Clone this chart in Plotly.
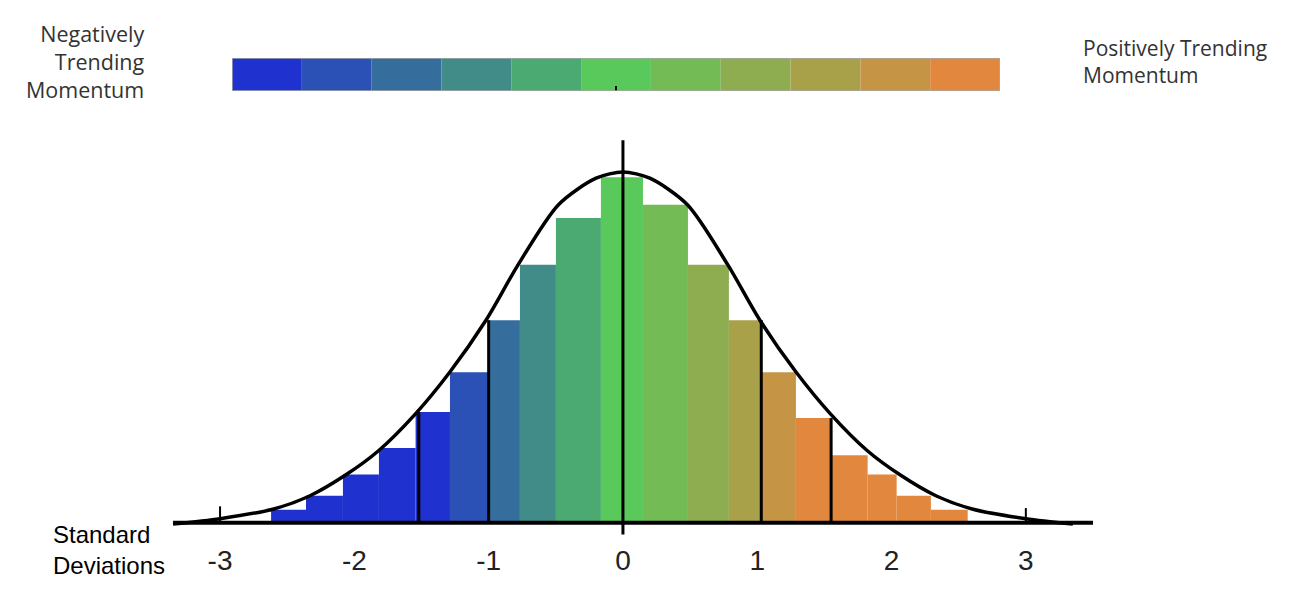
import plotly.graph_objects as go

# histogram bars (standard deviations)
bar_edges = [-2.62, -2.36, -2.085, -1.817, -1.544, -1.288, -1.005, -0.767, -0.499, -0.164,
             0.149, 0.484, 0.789, 1.035, 1.288, 1.554, 1.822, 2.038, 2.293, 2.567]
bar_heights = [0.016, 0.032, 0.056, 0.086, 0.127, 0.172, 0.231, 0.294, 0.347, 0.393,
               0.362, 0.294, 0.231, 0.172, 0.120, 0.078, 0.056, 0.032, 0.016]
bar_color_idx = [0, 0, 0, 0, 0, 1, 2, 3, 4, 5, 6, 7, 8, 9, 10, 10, 10, 10, 10]

# momentum palette (top legend strip)
palette = ['#1f31cf', '#2b50b6', '#356e9d', '#418b88', '#4baa71', '#5ac95b',
           '#72bb55', '#8dad50', '#a9a04a', '#c59444', '#e2883e']

# bell curve
curve_x = [-3.35, -3.0, -2.6, -2.33, -2.06, -1.82, -1.55, -1.29, -1.02, -0.78, -0.48, -0.2, 0,
           0.2, 0.48, 0.78, 1.02, 1.29, 1.55, 1.82, 2.06, 2.33, 2.6, 3.0, 3.35]
curve_y = [0.0, 0.006, 0.017, 0.032, 0.056, 0.083, 0.124, 0.172, 0.231, 0.294, 0.362, 0.392, 0.399,
           0.392, 0.362, 0.294, 0.231, 0.172, 0.124, 0.083, 0.056, 0.032, 0.017, 0.006, 0.0]

# black divider lines
line_x = [-1.52, -1.0, 0.0, 1.03, 1.55]
line_top = [0.127, 0.231, 0.435, 0.231, 0.12]
line_bottom = [0, 0, -0.012, 0, 0]

tick_vals = [-3, -2, -1, 0, 1, 2, 3]
tick_text = ['-3', '-2', '-1', '0', '1', '2', '3']

centers = [(a + b) / 2 for a, b in zip(bar_edges[:-1], bar_edges[1:])]
widths = [b - a for a, b in zip(bar_edges[:-1], bar_edges[1:])]

fig = go.Figure()
fig.add_trace(go.Bar(x=centers, y=bar_heights, width=widths,
                     marker=dict(color=[palette[i] for i in bar_color_idx], line_width=0),
                     hoverinfo='skip'))

fig.add_trace(go.Scatter(x=curve_x, y=curve_y, mode='lines',
                         line=dict(color='black', width=3.5, shape='spline', smoothing=0.8),
                         hoverinfo='skip'))

vx, vy = [], []
for x, t, b in zip(line_x, line_top, line_bottom):
    vx += [x, x, None]
    vy += [b, t, None]
fig.add_trace(go.Scatter(x=vx, y=vy, mode='lines', line=dict(color='black', width=3),
                         hoverinfo='skip'))

# small ticks at -3 and 3
fig.add_trace(go.Scatter(x=[-3, -3, None, 3, 3], y=[0, 0.02, None, 0, 0.018], mode='lines',
                         line=dict(color='black', width=2), hoverinfo='skip'))

# baseline
fig.add_shape(type='line', xref='x', yref='y', x0=-3.35, x1=3.5, y0=0.0015, y1=0.0015,
              line=dict(color='black', width=4))

# top colour strip
fig.add_trace(go.Bar(x=list(range(len(palette))), y=[1] * len(palette), width=1,
                     marker=dict(color=palette, line_width=0),
                     xaxis='x2', yaxis='y2', hoverinfo='skip'))
fig.add_shape(type='rect', xref='x2', yref='y2', x0=-0.5, x1=10.5, y0=0, y1=1,
              line=dict(color='#a8a8a8', width=1.5))

fig.update_layout(
    width=1291, height=592,
    margin=dict(l=0, r=0, t=0, b=0),
    paper_bgcolor='white', plot_bgcolor='white',
    showlegend=False,
    xaxis=dict(domain=[0, 1], range=[-4.579, 5.034], showgrid=False, zeroline=False,
               showline=False, ticks='', tickvals=tick_vals, ticktext=tick_text,
               tickfont=dict(family='Liberation Sans', size=28, color='#222')),
    yaxis=dict(domain=[0.0997, 1], range=[-0.0193, 0.585], showgrid=False, zeroline=False,
               showline=False, showticklabels=False),
    xaxis2=dict(domain=[0.1735, 0.7684], range=[-0.5, 10.5], anchor='y2', showgrid=False,
                zeroline=False, showline=False, showticklabels=False,
                tickvals=[5], ticks='inside', ticklen=5, tickwidth=1.5, tickcolor='black'),
    yaxis2=dict(domain=[0.8598, 0.9155], range=[0, 1], anchor='x2', showgrid=False,
                zeroline=False, showline=False, showticklabels=False),
)

fig.add_annotation(xref='paper', yref='paper', x=0.1076, y=0.9088, xanchor='right',
                   yanchor='middle', align='right', showarrow=False,
                   text='Negatively<br>Trending<br>Momentum',
                   font=dict(family='Open Sans', size=21.5, color='#333'))
fig.add_annotation(xref='paper', yref='paper', x=0.8312, y=0.9088, xanchor='left',
                   yanchor='middle', align='left', showarrow=False,
                   text='Positively Trending<br>Momentum',
                   font=dict(family='Open Sans', size=21, color='#333'))
fig.add_annotation(xref='paper', yref='paper', x=0.0335, y=0.0853, xanchor='left',
                   yanchor='middle', align='left', showarrow=False,
                   text='Standard<br>Deviations',
                   font=dict(family='Liberation Sans', size=24, color='black'))

fig.write_html("out.html")
